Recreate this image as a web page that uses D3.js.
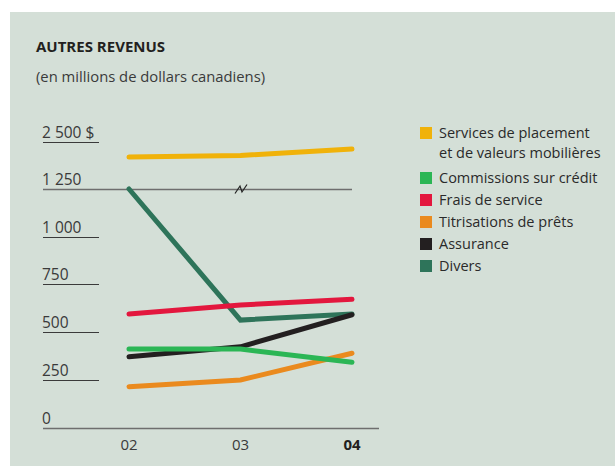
<!DOCTYPE html>
<html><head><meta charset="utf-8">
<script src="https://cdn.jsdelivr.net/npm/d3@7"></script>
<style>
html,body{margin:0;padding:0;background:#fff;}
svg{display:block;font-family:"Open Sans","Noto Sans",sans-serif;}
</style></head>
<body>
<svg id="c" width="615" height="466"></svg>
<script>
const years = ["02", "03", "04"];
const yTicks = [0, 250, 500, 750, 1000, 1250, 2500];
const yTickLabels = ["0", "250", "500", "750", "1 000", "1 250", "2 500 $"];
const seriesNames = ["Services de placement|et de valeurs mobilières", "Commissions sur crédit", "Frais de service", "Titrisations de prêts", "Assurance", "Divers"];
const seriesColors = ["#f0b20a", "#2bb655", "#e3173e", "#ea8a1e", "#231f20", "#2e745a"];
const placement = [2093, 2136, 2306];
const commissions = [411, 411, 342];
const frais = [595, 642, 672];
const titrisations = [214, 249, 389];
const assurance = [371, 423, 591];
const divers = [1250, 563, 595];
const seriesValues = [placement, commissions, frais, titrisations, assurance, divers];

const svg = d3.select("#c");
svg.append("rect").attr("x", 10).attr("y", 12).attr("width", 605).attr("height", 454).attr("fill", "#d4dfd7");

svg.append("text").attr("x", 36).attr("y", 52).attr("font-size", 15).attr("font-weight", 700).attr("fill", "#231f20").text("AUTRES REVENUS");
svg.append("text").attr("x", 36).attr("y", 82).attr("font-size", 14.8).attr("fill", "#3a3a3a").text("(en millions de dollars canadiens)");

const x = d3.scalePoint().domain(years).range([129, 352]);
const y = d3.scaleLinear().domain([0, 1250, 2500]).range([427.5, 189, 141.7]);

// tick lines & labels
const g = svg.append("g");
yTicks.forEach((t, i) => {
  if (t === 0) return;
  const yy = Math.round(y(t)) + 0.5;
  const x2 = t === 1250 ? x("04") : 99;
  g.append("line").attr("x1", 43).attr("x2", x2).attr("y1", yy).attr("y2", yy)
    .attr("stroke", t === 1250 ? "#6e6e6e" : "#3a3a3a").attr("stroke-width", t === 1250 ? 1.5 : 1);
  g.append("text").attr("x", 42).attr("y", yy - 5).attr("font-size", 15.5).attr("fill", "#3a3a3a").text(yTickLabels[i]);
});
// baseline
const y0 = Math.round(y(0)) + 0.5;
g.append("line").attr("x1", 43).attr("x2", 379).attr("y1", y0).attr("y2", y0).attr("stroke", "#6e6e6e").attr("stroke-width", 1.5);
g.append("text").attr("x", 42).attr("y", y0 - 5).attr("font-size", 15.5).attr("fill", "#3a3a3a").text(yTickLabels[0]);

// break mark
const bx = (x("02") + x("04")) / 2 + 0.5, by = y(1250);
svg.append("path").attr("d", `M${bx-6},${by+4.5} L${bx-1},${by-3} L${bx+1},${by+3} L${bx+6},${by-4.5}`)
  .attr("fill", "none").attr("stroke", "#222").attr("stroke-width", 1.2);

// x labels
years.forEach((yr, i) => {
  svg.append("text").attr("x", x(yr)).attr("y", 450).attr("text-anchor", "middle").attr("font-size", 15)
    .attr("font-weight", i === 2 ? 700 : 400).attr("fill", i === 2 ? "#231f20" : "#3a3a3a").text(yr);
});

// lines
const line = d3.line().x((d, i) => x(years[i])).y(d => y(d));
const drawOrder = [0, 5, 2, 3, 4, 1];
drawOrder.forEach(k => {
  svg.append("path").datum(seriesValues[k]).attr("d", line).attr("fill", "none")
    .attr("stroke", seriesColors[k]).attr("stroke-width", 5).attr("stroke-linecap", "round").attr("stroke-linejoin", "miter");
});

// legend
const rowY = [138, 183, 205, 227, 249, 271];
seriesNames.forEach((n, k) => {
  const by2 = rowY[k];
  svg.append("rect").attr("x", 420).attr("y", by2 - 11).attr("width", 12).attr("height", 12).attr("fill", seriesColors[k]);
  n.split("|").forEach((part, j) => {
    svg.append("text").attr("x", 439).attr("y", by2 + j * 20).attr("font-size", 14.5).attr("fill", "#2a2a2a").text(part);
  });
});
</script>
</body></html>
